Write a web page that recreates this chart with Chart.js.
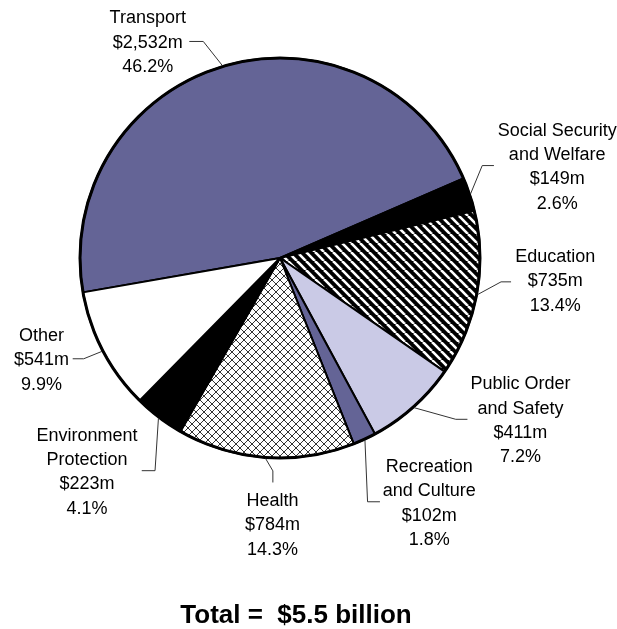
<!DOCTYPE html>
<html>
<head>
<meta charset="utf-8">
<script src="https://cdn.jsdelivr.net/npm/chart.js@4.4.1/dist/chart.umd.min.js"></script>
<style>
  html, body { margin: 0; padding: 0; background: #fff; }
  canvas { display: block; }
</style>
</head>
<body>
<canvas id="pie" width="617" height="629"></canvas>
<script>
const categories = ['Transport', 'Social Security\nand Welfare', 'Education', 'Public Order\nand Safety',
  'Recreation\nand Culture', 'Health', 'Environment\nProtection', 'Other'];
const spending = [2532, 149, 735, 411, 102, 784, 223, 541]; // $m
const shareLabels = ['46.2%', '2.6%', '13.4%', '7.2%', '1.8%', '14.3%', '4.1%', '9.9%'];
const totalLabel = 'Total =  $5.5 billion';

// leader line and text offsets, measured from the rim point at each slice's mid angle
const labelLayout = [
  { path: [[-19, -24], [-33, -24]], text: [-74.5, -42] },
  { path: [[11.7, -28.4], [23.4, -28.4]], text: [86.7, -58.4] },
  { path: [[23.4, -12.7], [33.4, -12.7]], text: [77.7, -32.7] },
  { path: [[41.6, 11.6], [53.3, 11.6]], text: [106.3, -18.4] },
  { path: [[2.6, 61.6], [15, 61.6]], text: [64.3, 31.6] },
  { path: [[7.3, 12.4], [7.3, 24]], text: [7, 47.4] },
  { path: [[-3.4, 52.6], [-16.7, 52.6]], text: [-71.4, 22.6] },
  { path: [[-18.3, 7.4], [-29.3, 7.4]], text: [-60.5, -10.6] }
];

const $ = id => document.getElementById(id);
const fmt = v => '$' + v.toLocaleString('en-US') + 'm';

function tile(n, draw) {
  const c = document.createElement('canvas');
  c.width = c.height = n;
  draw(c.getContext('2d'), n);
  return c.getContext('2d').createPattern(c, 'repeat');
}

const stripes = tile(9, (g, n) => {
  g.fillStyle = '#000';
  g.fillRect(0, 0, n, n);
  g.strokeStyle = '#fff';
  g.lineWidth = 2.6;
  for (const o of [-n, 0, n]) {
    g.beginPath(); g.moveTo(o, 0); g.lineTo(o + n, n); g.stroke();
  }
});

const crosshatch = tile(8, (g, n) => {
  g.fillStyle = '#fff';
  g.fillRect(0, 0, n, n);
  g.strokeStyle = '#333';
  g.lineWidth = 1;
  for (const o of [-n, 0, n]) {
    g.beginPath(); g.moveTo(o, 0); g.lineTo(o + n, n); g.stroke();
    g.beginPath(); g.moveTo(o + n, 0); g.lineTo(o, n); g.stroke();
  }
});

const fills = ['#646496', '#000', stripes, '#CACAE6', '#646496', crosshatch, '#000', '#fff'];

const rimLabels = {
  id: 'rimLabels',
  afterDatasetsDraw(chart) {
    const ctx = chart.ctx;
    const arcs = chart.getDatasetMeta(0).data;
    ctx.save();
    // heavier outer rim
    const a0 = arcs[0];
    ctx.strokeStyle = '#000';
    ctx.lineWidth = 3;
    ctx.beginPath();
    ctx.arc(a0.x, a0.y, a0.outerRadius, 0, Math.PI * 2);
    ctx.stroke();

    ctx.font = '18px "Liberation Sans", Arial, sans-serif';
    ctx.textAlign = 'center';
    ctx.fillStyle = '#000';
    arcs.forEach((arc, i) => {
      const mid = (arc.startAngle + arc.endAngle) / 2;
      const r = arc.outerRadius + 1;
      const x0 = arc.x + Math.cos(mid) * r;
      const y0 = arc.y + Math.sin(mid) * r;
      const L = labelLayout[i];
      ctx.strokeStyle = '#333';
      ctx.lineWidth = 1;
      ctx.beginPath();
      ctx.moveTo(x0, y0);
      L.path.forEach(([dx, dy]) => ctx.lineTo(x0 + dx, y0 + dy));
      ctx.stroke();
      const lines = [...categories[i].split('\n'), fmt(spending[i]), shareLabels[i]];
      lines.forEach((t, k) => ctx.fillText(t, x0 + L.text[0], y0 + L.text[1] + k * 24.4));
    });

    ctx.font = 'bold 26px "Liberation Sans", Arial, sans-serif';
    ctx.fillText(totalLabel, 296, 623);
    ctx.restore();
  }
};

new Chart($('pie'), {
  type: 'pie',
  data: {
    labels: categories,
    datasets: [{
      data: spending,
      backgroundColor: fills,
      borderColor: '#000',
      borderWidth: 2
    }]
  },
  options: {
    responsive: false,
    devicePixelRatio: 1,
    animation: false,
    rotation: 260.1,
    layout: { padding: { left: 79, top: 57, right: 136, bottom: 170 } },
    plugins: {
      legend: { display: false },
      tooltip: { enabled: false }
    }
  },
  plugins: [rimLabels]
});
</script>
</body>
</html>
